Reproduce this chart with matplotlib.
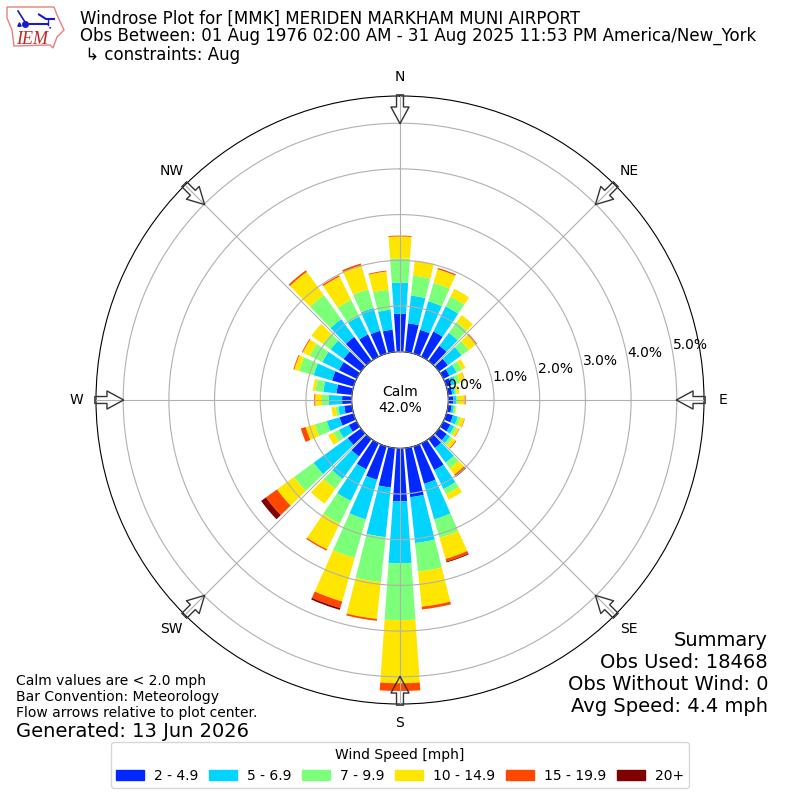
import numpy as np
import matplotlib
matplotlib.use("Agg")
import matplotlib.pyplot as plt
from matplotlib.patches import Patch, Polygon

# direction the wind comes from, degrees
directions = [10, 20, 30, 40, 50, 60, 70, 80, 90, 100, 110, 120,
              130, 140, 150, 160, 170, 180, 190, 200, 210, 220, 230, 240,
              250, 260, 270, 280, 290, 300, 310, 320, 330, 340, 350, 360]

# percent of observations per speed bin
speed_2_5 = [.63, .54, .61, .41, .24, .15, .11, .09, .11, .08, .15, .17,
             .21, .24, .65, .85, 1.08, 1.16, .87, .76, .63, .47, .36, .19,
             .32, .17, .21, .34, .49, .43, .47, .65, .54, .52, .49, .83]
speed_5_7 = [.61, .65, .61, .35, .37, .17, .11, .06, .06, .05, .11, .09,
             .09, .40, .46, .81, 1.01, 1.36, 1.09, .90, .77, .61, .92, .24,
             .29, .13, .29, .29, .42, .40, .35, .48, .44, .52, .44, .68]
speed_7_10 = [.44, .42, .24, .29, .19, .13, .09, .04, .04, .04, .06, .06,
              .06, .15, .13, .42, .63, 1.24, .99, .88, .55, .27, .53, .13,
              .27, .06, .15, .17, .33, .31, .21, .65, .40, .42, .44, .53]
speed_10_15 = [.33, .31, .19, .19, .21, .09, .11, .06, .15, .02, .09, .06,
               .09, .17, .13, .48, .77, 1.38, .81, .99, .63, .40, .46, .13,
               .21, .09, .15, .06, .11, .17, .31, .63, .57, .55, .40, .48]
speed_15_20 = [0, .03, 0, 0, .02, 0, .01, 0, .02, 0, .01, .01,
               .02, .04, 0, .06, .06, .17, .04, .15, .03, 0, .30, 0,
               .11, 0, .02, 0, .02, .02, 0, .04, .03, .04, .02, .02]
speed_20 = [0, 0, 0, 0, 0, 0, 0, 0, 0, 0, 0, 0,
            0, .02, 0, .02, 0, 0, 0, .04, 0, 0, .13, 0,
            0, 0, 0, 0, 0, 0, 0, 0, 0, 0, 0, 0]

bins = [speed_2_5, speed_5_7, speed_7_10, speed_10_15, speed_15_20, speed_20]
bin_labels = ["2 - 4.9", "5 - 6.9", "7 - 9.9", "10 - 14.9", "15 - 19.9", "20+"]
colors = ["#0028ff", "#00d4ff", "#7cff79", "#ffe600", "#ff4700", "#7f0000"]

compass = ["N", "NE", "E", "SE", "S", "SW", "W", "NW"]
rings = [0, 1, 2, 3, 4, 5]

fig = plt.figure(figsize=(8, 8), dpi=100)
ax = fig.add_axes([0.12, 0.12, 0.76, 0.76], projection="polar")
ax.set_theta_zero_location("N")
ax.set_theta_direction(-1)

theta = np.radians(directions)
bottom = np.zeros(len(directions))
for vals, color in zip(bins, colors):
    ax.bar(theta, vals, width=np.radians(8), bottom=bottom, color=color,
           linewidth=0)
    bottom += np.array(vals)

# bars hang off a hole in the middle, that is where calm goes
ax.set_rorigin(-1.057)
ax.set_rlim(0, 5.595)
ax.set_axisbelow(False)
ax.set_thetagrids(np.arange(0, 360, 45), compass)
ax.set_rgrids(rings, [f"{r:.1f}%" for r in rings], angle=80)
ax.tick_params(axis="x", pad=3.5)

# flow arrows round the edge
for ang in np.arange(0, 360, 45):
    ax.annotate("", xy=(np.radians(ang), 4.99), xytext=(np.radians(ang), 5.62),
                annotation_clip=False,
                arrowprops=dict(facecolor="none", edgecolor="#333333", lw=1,
                                width=5, headwidth=13, headlength=12, shrink=0))

ax.text(0.5, 0.5, "Calm\n42.0%", transform=ax.transAxes, ha="center",
        va="center", fontsize=10)

fig.text(0.1, 0.976, "Windrose Plot for [MMK] MERIDEN MARKHAM MUNI AIRPORT",
         va="center", fontsize=12)
fig.text(0.1, 0.955, "Obs Between: 01 Aug 1976 02:00 AM - 31 Aug 2025 11:53 PM America/New_York",
         va="center", fontsize=12)
fig.text(0.1, 0.931, " \u21b3 constraints: Aug", va="center", fontsize=12)

fig.text(0.96, 0.105, "Summary\nObs Used: 18468\nObs Without Wind: 0\nAvg Speed: 4.4 mph",
         ha="right", va="bottom", fontsize=14)
fig.text(0.02, 0.1, "Calm values are < 2.0 mph\nBar Convention: Meteorology\n"
         "Flow arrows relative to plot center.", va="bottom", fontsize=10)
fig.text(0.02, 0.0975, "Generated: 13 Jun 2026", va="top", fontsize=14)

handles = [Patch(color=c, label=l) for c, l in zip(colors, bin_labels)]
fig.legend(handles=handles, title="Wind Speed [mph]", ncols=6, loc="lower center",
           bbox_to_anchor=(0.5, 0.006), fontsize=10, title_fontsize=10,
           columnspacing=0.8, handletextpad=0.7)

# rough IEM logo, in pixel coords
logo = fig.add_axes([0, 0, 1, 1], facecolor="none")
logo.set_xlim(0, 800)
logo.set_ylim(800, 0)
logo.axis("off")
logo.add_patch(Polygon([(7, 7), (54, 7), (57, 15), (64, 30), (57, 37), (53, 48),
                        (50, 45), (14, 46), (12, 30), (7, 18)],
                       closed=True, facecolor="white", edgecolor="#e88080", lw=1))
logo.plot([25, 48], [23.5, 23.5], color="#1a1acc", lw=1.5)
logo.plot([25], [23.5], "o", color="#1a1acc", ms=4)
logo.plot([18, 25], [11, 22], color="#1a1acc", lw=1.2)
logo.plot([39, 46, 54], [14.5, 19, 19], color="#1a1acc", lw=1.5)
logo.plot([48, 48], [19, 25], color="#1a1acc", lw=1)
logo.plot([50, 51], [27, 31], color="#1a1acc", lw=1.2, ls=":")
logo.plot([19], [23.5], "^", color="#1a1acc", ms=2.5)
logo.text(16, 44, "IEM", color="#cc2222", family="Liberation Serif", style="italic",
          fontsize=13)

fig.savefig("out.png", dpi=100)
